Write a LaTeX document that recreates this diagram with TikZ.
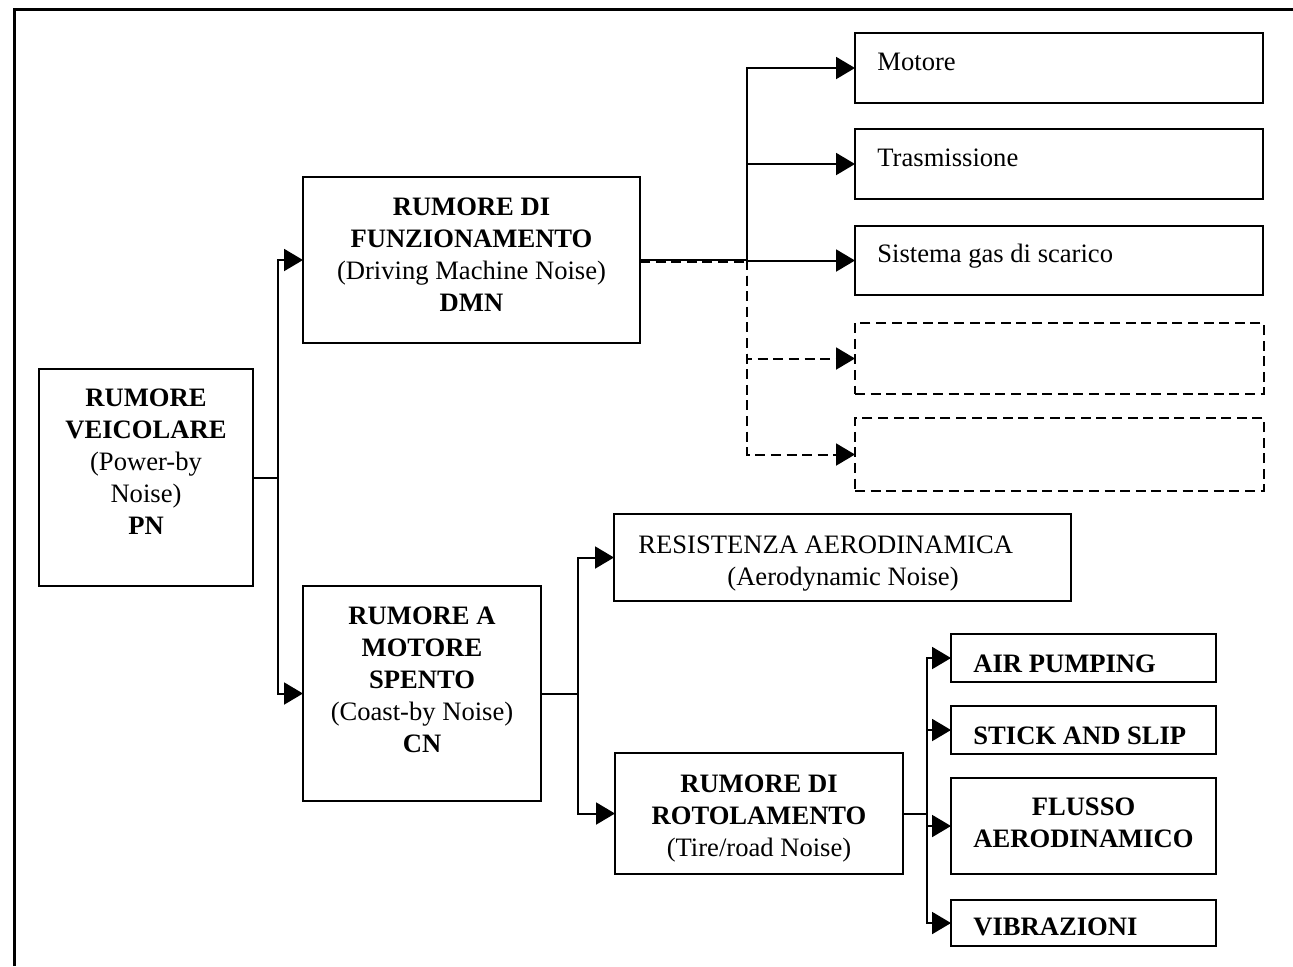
\documentclass[tikz,border=0pt]{standalone}
\usepackage{fontspec}
\setmainfont{Liberation Serif}
\usetikzlibrary{arrows.meta}
\newcommand\mkbox[6]{%
  \node[#1, minimum width={(#5-#3)*0.5pt}, minimum height={(#6-#4)*0.5pt}] (#2) at (#3,#4) {};}
\begin{document}
\begin{tikzpicture}[x=0.5pt,y=-0.5pt,
  box/.style={draw, line width=1pt, inner sep=0pt, outer sep=0pt, anchor=north west},
  dbox/.style={box, dash pattern=on 5pt off 2.8pt},
  conn/.style={line width=1pt},
  dconn/.style={conn, dash pattern=on 5pt off 2.8pt},
  arr/.style={conn, -{Triangle[length=9.5pt,width=11pt]}},
  darr/.style={dconn, -{Triangle[length=9.5pt,width=11pt]}},
  txt/.style={anchor=base, inner sep=0pt, font=\fontsize{13.3}{16}\selectfont},
  ltxt/.style={txt, anchor=base west},
  ]
\useasboundingbox (0,0) rectangle (1293,966);
% outer frame (clipped at right and bottom)
\draw[line width=1.2pt] (14.5,966) -- (14.5,9.5) -- (1293,9.5);

% boxes
\mkbox{box}{pn}{39}{369}{253}{586}
\mkbox{box}{dmn}{303}{177}{640}{343}
\mkbox{box}{cn}{303}{586}{541}{801}
\mkbox{box}{mot}{855}{33}{1263}{103}
\mkbox{box}{tra}{855}{129}{1263}{199}
\mkbox{box}{sis}{855}{226}{1263}{295}
\mkbox{dbox}{da}{855}{323}{1264}{394}
\mkbox{dbox}{db}{855}{418}{1264}{491}
\mkbox{box}{res}{614}{514}{1071}{601}
\mkbox{box}{rr}{615}{753}{903}{874}
\mkbox{box}{air}{951}{634}{1216}{682}
\mkbox{box}{sti}{951}{706}{1216}{754}
\mkbox{box}{flu}{951}{778}{1216}{874}
\mkbox{box}{vib}{951}{900}{1216}{946}

% texts
\node[txt] (pnT) at (146,406) {\begin{tabular}[t]{@{}c@{}}\textbf{RUMORE}\\ \textbf{VEICOLARE}\\ (Power-by\\ Noise)\\ \textbf{PN}\end{tabular}};
\node[txt] (dmnT) at (471.5,215) {\begin{tabular}[t]{@{}c@{}}\textbf{RUMORE DI}\\ \textbf{FUNZIONAMENTO}\\ (Driving Machine Noise)\\ \textbf{DMN}\end{tabular}};
\node[txt] (cnT) at (422,624) {\begin{tabular}[t]{@{}c@{}}\textbf{RUMORE A}\\ \textbf{MOTORE}\\ \textbf{SPENTO}\\ (Coast-by Noise)\\ \textbf{CN}\end{tabular}};
\node[txt] (rrT) at (759,792) {\begin{tabular}[t]{@{}c@{}}\textbf{RUMORE DI}\\ \textbf{ROTOLAMENTO}\\ (Tire/road Noise)\end{tabular}};
\node[ltxt] (motT) at (877,70) {Motore};
\node[ltxt] (traT) at (877,166) {Trasmissione};
\node[ltxt] (sisT) at (877,262) {Sistema gas di scarico};
\node[ltxt] (resT1) at (638,553) {RESISTENZA AERODINAMICA};
\node[ltxt] (resT2) at (727,585) {(Aerodynamic Noise)};
\node[ltxt] (airT) at (973,672) {\textbf{AIR PUMPING}};
\node[ltxt] (stiT) at (973,744) {\textbf{STICK AND SLIP}};
\node[txt] (fluT) at (1083.5,815) {\begin{tabular}[t]{@{}c@{}}\textbf{FLUSSO}\\ \textbf{AERODINAMICO}\end{tabular}};
\node[ltxt] (vibT) at (973,935) {\textbf{VIBRAZIONI}};

% junction coordinates
\coordinate (j1) at (278,0);
\coordinate (j2) at (747,0);
\coordinate (j3) at (578,0);
\coordinate (j4) at (927,0);

% connectors
\draw[conn] (pn.east) -- (pn.east -| j1);
\draw[arr] (pn.east -| j1) |- (dmn.west);
\draw[arr] (pn.east -| j1) |- (cn.west);

\draw[dconn] ([yshift=-1pt]dmn.east) -- ([yshift=-1pt]dmn.east -| j2);
\draw[conn] (dmn.east) -- (dmn.east -| j2);
\draw[darr] (dmn.east -| j2) |- (da.west);
\draw[darr] (dmn.east -| j2) |- (db.west);
\draw[arr] (dmn.east -| j2) |- (mot.west);
\draw[arr] (dmn.east -| j2) |- (tra.west);
\draw[arr] (dmn.east -| j2) |- (sis.west);

\draw[conn] (cn.east) -- (cn.east -| j3);
\draw[arr] (cn.east -| j3) |- (res.west);
\draw[arr] (cn.east -| j3) |- (rr.west);

\draw[conn] (rr.east) -- (rr.east -| j4);
\draw[arr] (rr.east -| j4) |- (air.west);
\draw[arr] (rr.east -| j4) |- (sti.west);
\draw[arr] (rr.east -| j4) |- (flu.west);
\draw[arr] (rr.east -| j4) |- (vib.west);
\end{tikzpicture}
\end{document}
